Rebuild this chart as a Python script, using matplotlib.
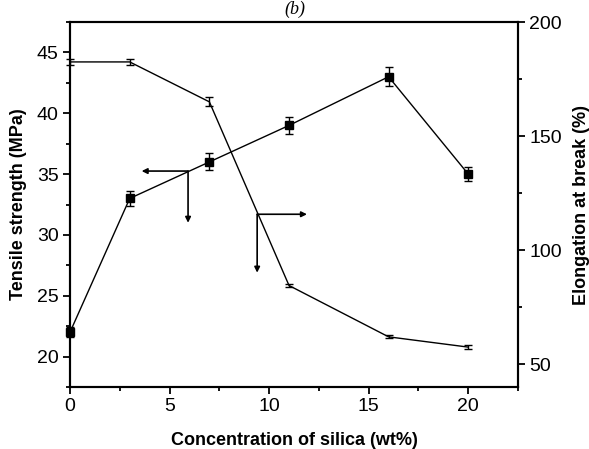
import matplotlib
matplotlib.use('Agg')
import matplotlib.pyplot as plt
from matplotlib.ticker import MultipleLocator

plt.rcParams['font.family'] = ['Liberation Sans', 'DejaVu Sans']

# silica content (wt%)
silica = [0, 3, 7, 11, 16, 20]

# tensile strength (MPa), left axis
tensile = [22.0, 33.0, 36.0, 39.0, 43.0, 35.0]
tensile_err = [0.4, 0.6, 0.7, 0.7, 0.8, 0.6]

# elongation at break (%), right axis
elong = [182.5, 182.5, 165.0, 84.5, 62.0, 57.5]
elong_err = [1.5, 1.5, 2.0, 0.8, 0.6, 0.8]

# guide arrows (in tensile-axis coordinates): start, end
arrows = [((5.93, 35.25), (3.6, 35.25)),
          ((5.93, 35.25), (5.93, 31.0)),
          ((9.4, 31.7), (9.4, 26.9)),
          ((9.4, 31.7), (11.9, 31.7))]

fig = plt.figure(figsize=(5.89, 4.49), dpi=100)
ax = fig.add_axes([0.1188, 0.138, 0.7607, 0.813])
ax2 = ax.twinx()

ax.errorbar(silica, tensile, yerr=tensile_err, color='black', lw=1.0,
            marker='s', ms=6, capsize=3, elinewidth=1.0, capthick=1.0,
            clip_on=False, zorder=3)
ax2.errorbar(silica, elong, yerr=elong_err, color='black', lw=1.0,
             capsize=3, elinewidth=1.0, capthick=1.0, clip_on=False)

for start, end in arrows:
    ax.annotate('', xy=end, xytext=start,
                arrowprops=dict(arrowstyle='-|>', color='black', lw=1.2,
                                mutation_scale=8, shrinkA=0, shrinkB=0))

ax.set_xlim(0, 22.5)
ax.set_ylim(17.5, 47.5)
ax2.set_ylim(40, 200)

ax.xaxis.set_major_locator(MultipleLocator(5))
ax.xaxis.set_minor_locator(MultipleLocator(2.5))
ax.yaxis.set_major_locator(MultipleLocator(5))
ax.yaxis.set_minor_locator(MultipleLocator(2.5))
ax2.yaxis.set_major_locator(MultipleLocator(50))
ax2.yaxis.set_minor_locator(MultipleLocator(25))

for a in (ax, ax2):
    for s in a.spines.values():
        s.set_linewidth(1.5)
    a.tick_params(which='major', direction='out', length=5, width=1.3,
                  labelsize=14, pad=3)
    a.tick_params(which='minor', direction='out', length=3, width=1.3)
ax.tick_params(top=False, right=False, which='both')
ax.set_yticks([20, 25, 30, 35, 40, 45])

ax.set_xlabel('Concentration of silica (wt%)', fontsize=13,
              fontweight='bold', labelpad=12)
ax.set_ylabel('Tensile strength (MPa)', fontsize=13, fontweight='bold',
              labelpad=7)
ax2.set_ylabel('Elongation at break (%)', fontsize=13, fontweight='bold',
               labelpad=8)

fig.text(0.5, 0.998, '(b)', ha='center', va='top', fontsize=13,
         fontstyle='italic', family=['Liberation Serif', 'DejaVu Serif'])

fig.savefig('out.png', dpi=100)
